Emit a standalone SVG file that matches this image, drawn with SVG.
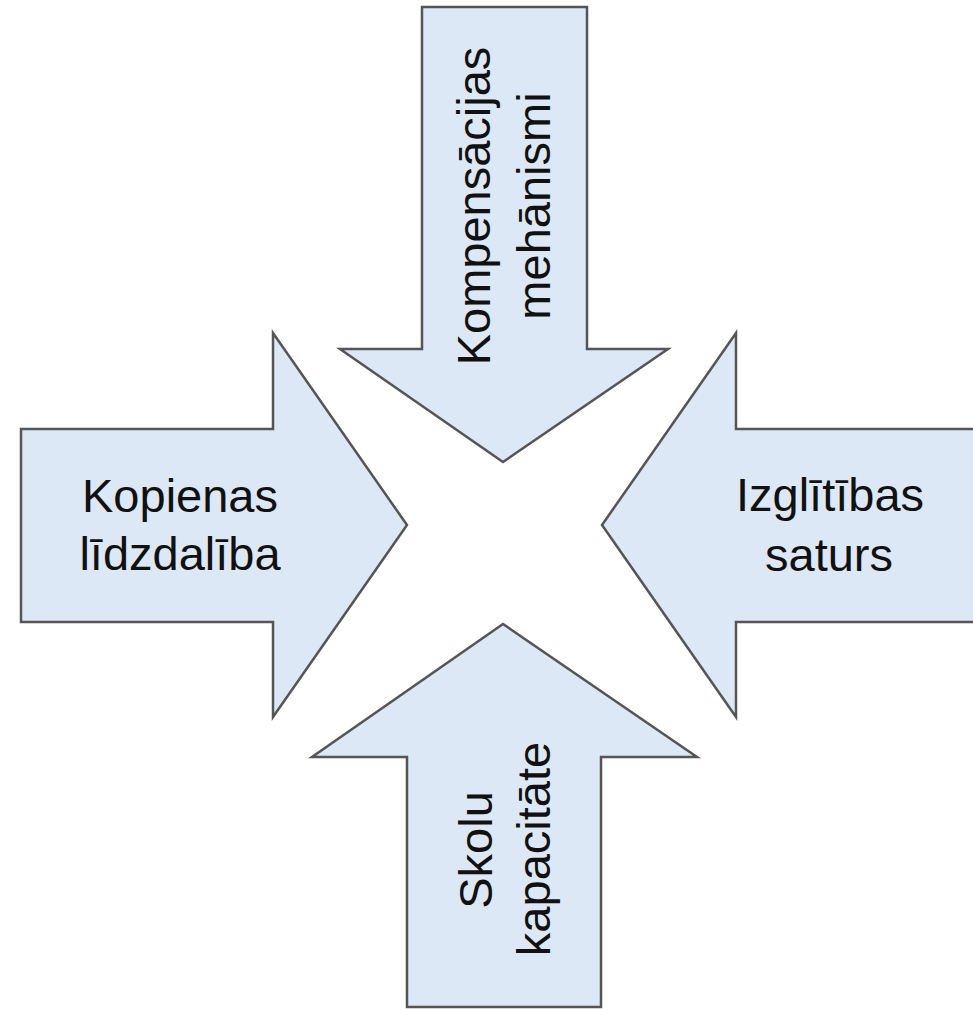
<svg xmlns="http://www.w3.org/2000/svg" width="973" height="1009" viewBox="0 0 973 1009">
<style>
.arrow{fill:#dce8f5;stroke:#555555;stroke-width:2.5;stroke-linejoin:miter}
.lbl{font-family:"Liberation Sans",Arial,sans-serif;font-size:47px;fill:#111111;text-anchor:middle}
</style>
<rect width="973" height="1009" fill="#ffffff"/>
<g id="connectors"></g>
<g id="top">
<polygon class="arrow" points="422,7 587,7 587,349 668,349 503,462 340,349 422,349"/>
<text class="lbl" transform="translate(490,206) rotate(-90)">Kompensācijas</text>
<text class="lbl" transform="translate(550,206) rotate(-90)">mehānismi</text>
</g>
<g id="left">
<polygon class="arrow" points="21,429 273,429 273,333 407,525 273,717 273,622 21,622"/>
<text class="lbl" x="180" y="512">Kopienas</text>
<text class="lbl" x="180" y="570">līdzdalība</text>
</g>
<g id="right">
<polygon class="arrow" points="980,429 736,429 736,333 602,525 736,717 736,622 980,622"/>
<text class="lbl" x="830" y="511">Izglītības</text>
<text class="lbl" x="829" y="571">saturs</text>
</g>
<g id="bottom">
<polygon class="arrow" points="407,1007 601,1007 601,757 697,757 503,624 312,757 407,757"/>
<text class="lbl" transform="translate(492,850) rotate(-90)">Skolu</text>
<text class="lbl" transform="translate(550,849) rotate(-90)">kapacitāte</text>
</g>
</svg>
